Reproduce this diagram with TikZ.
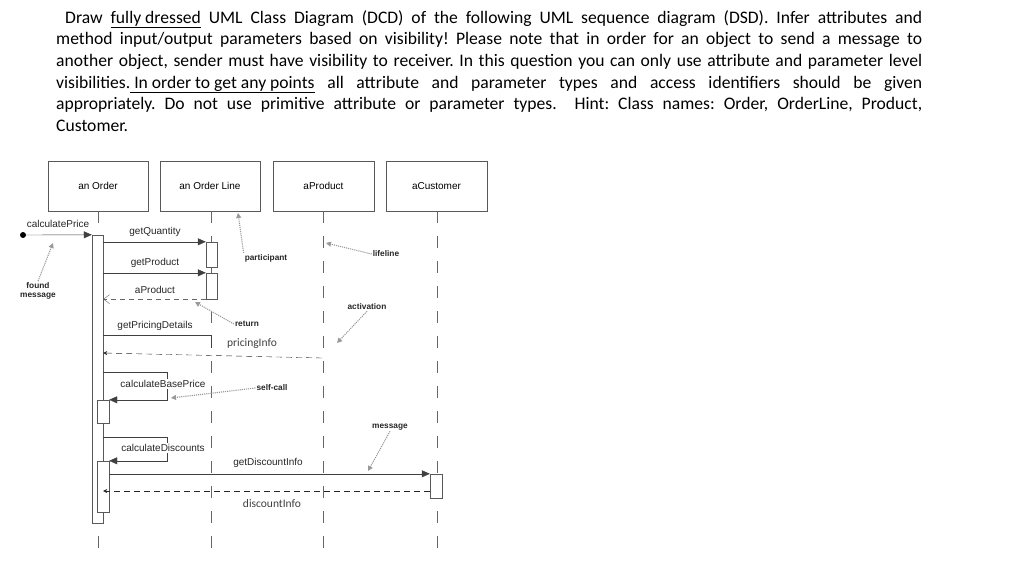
\documentclass[tikz,border=0pt]{standalone}
\usepackage{fontspec}
\setmainfont{Carlito}
\newfontfamily\diagfont{Liberation Sans}
\usetikzlibrary{arrows.meta}
\frenchspacing

\tikzset{
  obj/.style={draw=black!65, minimum width=100pt, minimum height=50pt, inner sep=0pt, font=\diagfont\fontsize{10}{12}\selectfont},
  act/.style={draw=black!65, fill=white, minimum width=11pt, inner sep=0pt},
  lifeline/.style={draw=black!60, dash pattern=on 12pt off 13pt},
  msg/.style={draw=black!75, -{Triangle[length=8pt,width=7pt]}},
  plain/.style={draw=black!75},
  ret/.style={draw=black!60, dash pattern=on 5pt off 4pt, -{Straight Barb[length=6pt,width=9pt]}},
  retback/.style={draw=black!85, dash pattern=on 6pt off 4pt, -{Stealth[length=4pt,width=4pt]}},
  lbl/.style={font=\diagfont\fontsize{10}{12}\selectfont, text=black!85, inner sep=1pt},
  infolbl/.style={font=\fontsize{11.5}{13}\selectfont, text=black!75, inner sep=1pt},
  note/.style={font=\diagfont\bfseries\fontsize{8.3}{9.5}\selectfont, align=center, inner sep=1pt, text=black!85},
  pointer/.style={draw=black!40, densely dotted, line width=1.1pt, -{Triangle[length=5pt,width=5pt]}}
}

\begin{document}
\begin{tikzpicture}[x=1pt, y=-1pt]
  \useasboundingbox (0,0) rectangle (1024,576);

  % Task text
  \node[anchor=base west, text width=866pt, align=justify, inner sep=0pt,
        font=\fontsize{17.6}{21.7}\selectfont] (task) at (56,23) {%
    \hspace*{9pt}Draw \underline{fully dressed} UML Class Diagram (DCD) of the following UML sequence diagram (DSD). Infer attributes and\linebreak
    method input/output parameters based on visibility! Please note that in order for an object to send a message to\linebreak
    another object, sender must have visibility to receiver. In this question you can only use attribute and parameter level\linebreak
    visibilities.\underline{\ In order to get any points} all attribute and parameter types and access identifiers should be given\linebreak
    appropriately. Do not use primitive attribute or parameter types. \ Hint: Class names: Order, OrderLine, Product,\linebreak
    Customer.};

  % Participants
  \node[obj] (order) at (98,186) {an Order};
  \node[obj] (line) at (210,186) {an Order Line};
  \node[obj, minimum width=101pt] (product) at (323.5,186) {aProduct};
  \node[obj, minimum width=101pt] (customer) at (436.5,186) {aCustomer};

  % Lifelines
  \draw[lifeline] (order.south) -- (order.south |- 0,548);
  \draw[lifeline] (211,211) -- (211,548);
  \draw[lifeline] (323,211) -- (323,548);
  \draw[lifeline] (437,211) -- (437,548);

  % Activations
  \node[act, minimum height=288pt] (orderact) at (97.5,379) {};
  \node[act, minimum height=25pt] (lineact1) at (211.5,254.5) {};
  \node[act, minimum height=26pt] (lineact2) at (211.5,286) {};
  \node[act, minimum width=12pt, minimum height=23pt] (baseact) at (103,411.5) {};
  \node[act, minimum width=12pt, minimum height=51pt] (discact) at (103,486.5) {};
  \node[act, minimum width=12pt, minimum height=24pt] (custact) at (436,486) {};

  % Messages
  \node[circle, fill=black, inner sep=0pt, minimum size=6pt] (found) at (23,235) {};
  \draw[msg] (found) -- (orderact.north west);
  \node[lbl] (calcprice) at (58,224) {calculatePrice};

  \draw[msg] (orderact.east |- lineact1.north) -- (lineact1.north west);
  \node[lbl] (getqty) at (155,232) {getQuantity};
  \draw[msg] (orderact.east |- lineact2.north) -- (lineact2.north west);
  \node[lbl] (getprod) at (155,263) {getProduct};
  \draw[ret] (lineact2.south west) -- (orderact.east |- lineact2.south);
  \node[lbl] (aprod) at (155,290) {aProduct};

  \coordinate (pricingend) at (211,348);
  \draw[plain] (orderact.east |- 0,335) -| (pricingend);
  \node[lbl] (getpricing) at (155,326) {getPricingDetails};
  \coordinate (pricingret) at (322,358);
  \draw[retback] (pricingret) -- (orderact.east |- 0,353);
  \node[infolbl] (pricinginfo) at (252,344) {pricingInfo};

  \draw[msg] (orderact.east |- 0,372) -- ++(64,0) |- (baseact.north east);
  \node[lbl, fill=white] (calcbase) at (163,384) {calculateBasePrice};
  \draw[msg] (orderact.east |- 0,437) -- ++(64,0) |- (discact.north east);
  \node[lbl, fill=white] (calcdisc) at (163,448) {calculateDiscounts};

  \draw[msg] (discact.east |- custact.north) -- (custact.north west);
  \node[lbl] (getdisc) at (268,463) {getDiscountInfo};
  \draw[retback] (custact.west |- 0,491) -- (orderact.east |- 0,491);
  \node[infolbl] (discinfo) at (272,504) {discountInfo};

  % Annotations
  \node[note] (nfound) at (38,291) {found\\message};
  \coordinate (tfound) at (53,243);
  \draw[pointer] (nfound.north) -- (tfound);
  \node[note] (npart) at (266,258) {participant};
  \coordinate (tpart) at (238,213);
  \draw[pointer] (npart.north west) -- (tpart);
  \node[note] (nlife) at (386,254) {lifeline};
  \coordinate (tlife) at (326,243);
  \draw[pointer] (nlife.west) -- (tlife);
  \node[note] (nact) at (367,307) {activation};
  \coordinate (tact) at (337,343);
  \draw[pointer] (nact.south) -- (tact);
  \node[note] (nret) at (247,324) {return};
  \coordinate (tret) at (195,302);
  \draw[pointer] (nret.west) -- (tret);
  \node[note] (nself) at (272,388) {self-call};
  \coordinate (tself) at (171,398);
  \draw[pointer] (nself.west) -- (tself);
  \node[note] (nmsg) at (390,427) {message};
  \coordinate (tmsg) at (368,471);
  \draw[pointer] (nmsg.south) -- (tmsg);
\end{tikzpicture}
\end{document}
